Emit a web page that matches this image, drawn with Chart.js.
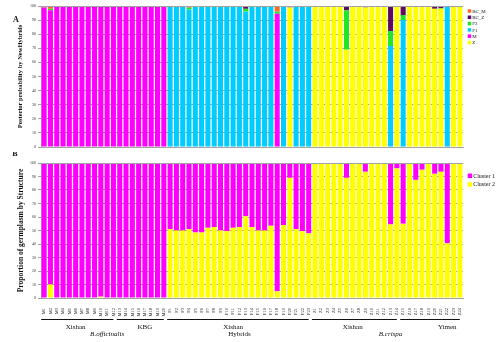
<!DOCTYPE html>
<html>
<head>
<meta charset="utf-8">
<script src="https://cdn.jsdelivr.net/npm/chart.js@4.4.0/dist/chart.umd.min.js"></script>
<style>
  html, body { margin: 0; padding: 0; background: #fff; }
  #wrapA { position: absolute; left: 0; top: 0; width: 500px; height: 152px; }
  #wrapB { position: absolute; left: 0; top: 152px; width: 500px; height: 190px; }
</style>
</head>
<body>
<div id="wrapA"><canvas id="chartA"></canvas></div>
<div id="wrapB"><canvas id="chartB"></canvas></div>
<script>
const samples = [
  'M1','M2','M3','M4','M5','M6','M7','M8','M9','M10','M11','M12','M13','M14','M15','M16','M17','M18','M19','M20',
  'P1','P2','P3','P4','P5','P6','P7','P8','P9','P10','P11','P12','P13','P14','P15','P16','P17','P18','P19','P20','P21','P22','P23',
  'Z1','Z2','Z3','Z4','Z5','Z6','Z7','Z8','Z9','Z10','Z11','Z12','Z13','Z14','Z15','Z16','Z17','Z18','Z19','Z20','Z21','Z22','Z23','Z24'
];
const yTicks = [0, 10, 20, 30, 40, 50, 60, 70, 80, 90, 100];

// NewHybrids posterior probabilities (%), one value per sample
const nhZ = [
  0,0,0,0,0,0,0,0,0,0,0,0,0,0,0,0,0,0,0,0,
  0,0,0,0,0,0,0,0,0,0,0,0,0,0,0,0,0,0,0,99,0,0,0,
  100,100,100,100,100,69,100,100,99,100,99.4,100,0,100,0,100,100,100,100,98,98,0,100,100
];
const nhM = [
  99,97,100,100,100,100,99.5,100,100,99.5,100,100,100,100,100,100,100,100,100,100,
  0,0,0,0,0,0,0,0,0,0,0,0,0,0,0,0,0,94.5,0,0,0,0,0,
  0,0,0,0,0,0,0,0,0,0,0,0,0,0,0,0,0,0,0,0,0,0,0,0
];
const nhF1 = [
  0,0,0,0,0,0,0,0,0,0,0,0,0,0,0,0,0,0,0,0,
  100,100,100,97.5,100,100,100,100,100,100,100,100,96,100,100,100,100,0,100,0,100,100,100,
  0,0,0,0,0,0,0,0,0,0,0,0,71.6,0,90,0,0,0,0,0,0,100,0,0
];
const nhF2 = [
  0,1,0,0,0,0,0,0,0,0.5,0,0,0,0,0,0,0,0,0,0,
  0,0,0,1.3,0,0,0,0,0,0,0,0,2,0,0,0,0,1.5,0,0,0,0,0,
  0,0,0,0,0,28,0,0,0,0,0.6,0,10.6,0,3.6,0,0,0,0,0,0.5,0,0,0
];
const nhBCZ = [
  0,0,0,0,0,0,0,0,0,0,0,0,0,0,0,0,0,0,0,0,
  0,0,0,0,0,0,0,0,0,0,0,0,2,0,0,0,0,0,0,1,0,0,0,
  0,0,0,0,0,3,0,0,1,0,0,0,17.8,0,6.4,0,0,0,0,2,1.5,0,0,0
];
const nhBCM = [
  1,2,0,0,0,0,0.5,0,0,0,0,0,0,0,0,0,0,0,0,0,
  0,0,0,1.2,0,0,0,0,0,0,0,0,0,0,0,0,0,4,0,0,0,0,0,
  0,0,0,0,0,0,0,0,0,0,0,0,0,0,0,0,0,0,0,0,0,0,0,0
];

// Structure proportions (%), two clusters
const cluster1 = [
  100,90,100,100,100,100,100,100,100,99,100,100,100,100,100,100,100,100,100,100,
  49,50,50,49,51.5,51.5,48,47.5,50,50.5,48,47.5,39.5,47.5,50,50,46.5,95,46,11,49,50.5,52,
  0,0,0,0,0,11,0,0,6.5,0,0,0,45.5,4,45,0,12.5,5,0,8,6.5,59.5,0,0
];
const cluster2 = [
  0,10,0,0,0,0,0,0,0,1,0,0,0,0,0,0,0,0,0,0,
  51,50,50,51,48.5,48.5,52,52.5,50,49.5,52,52.5,60.5,52.5,50,50,53.5,5,54,89,51,49.5,48,
  100,100,100,100,100,89,100,100,93.5,100,100,100,54.5,96,55,100,87.5,95,100,92,93.5,40.5,100,100
];

// sample groups under the x axis
const groupRuns = [
  { first: 'M1', last: 'M12', name: 'Xishan', at: 'M6' },
  { first: 'M13', last: 'M20', name: 'KBG', at: 'M17' },
  { first: 'P1', last: 'P23', name: 'Xishan', at: 'P11' },
  { first: 'Z1', last: 'Z14', name: 'Xishan', at: 'Z7' },
  { first: 'Z15', last: 'Z24', name: 'Yimen', at: 'Z22' }
];
const speciesNames = [
  { name: 'B.officinalis', at: 'M11', italic: true },
  { name: 'Hybrids', at: 'P12', italic: false },
  { name: 'B.crispa', at: 'Z13', italic: true }
];

const SERIF = '"Liberation Serif", "Times New Roman", serif';
const GRID = '#a3a3a3';

function makeScales(xHeight, showX) {
  return {
    x: {
      stacked: true,
      grid: { display: false },
      border: { color: GRID },
      ticks: {
        display: showX, autoSkip: false, minRotation: 90, maxRotation: 90,
        padding: 2, color: '#222', font: { family: SERIF, size: 4.5 }
      },
      afterFit: (s) => { s.height = xHeight; }
    },
    y: {
      stacked: true, min: 0, max: 100,
      afterBuildTicks: (s) => { s.ticks = yTicks.map(v => ({ value: v })); },
      grid: { color: GRID, lineWidth: 1, tickLength: 3 },
      border: { color: GRID },
      ticks: { padding: 2, color: '#333', font: { family: SERIF, size: 4 } },
      afterFit: (s) => { s.width = 41; }
    }
  };
}

// panel letter, rotated y title, legend and top line
function decor(opts) {
  return {
    id: 'decor',
    afterDatasetsDraw(chart) {
      const { ctx, chartArea } = chart;
      ctx.save();
      ctx.strokeStyle = GRID;
      ctx.lineWidth = 1;
      ctx.beginPath();
      ctx.moveTo(chartArea.left, Math.round(chartArea.top) + 0.5);
      ctx.lineTo(chartArea.right, Math.round(chartArea.top) + 0.5);
      ctx.stroke();
      ctx.restore();
    },
    afterDraw(chart) {
      const { ctx, chartArea } = chart;
      ctx.save();
      ctx.fillStyle = '#111';
      ctx.font = 'bold 8px ' + SERIF;
      ctx.textAlign = 'center';
      ctx.textBaseline = 'middle';
      ctx.fillText(opts.letter, opts.letterX, opts.letterY);

      ctx.save();
      ctx.translate(20.7, (chartArea.top + chartArea.bottom) / 2);
      ctx.rotate(-Math.PI / 2);
      ctx.font = 'bold ' + opts.titleSize + 'px ' + SERIF;
      ctx.fillText(opts.title, 0, 0);
      ctx.restore();

      const items = chart.data.datasets.slice().reverse();
      ctx.textAlign = 'left';
      ctx.font = opts.legendSize + 'px ' + SERIF;
      items.forEach((ds, k) => {
        const y = opts.legendTop + k * opts.legendStep;
        ctx.fillStyle = ds.backgroundColor;
        ctx.fillRect(chartArea.right + 4.7, y - opts.box / 2, opts.box, opts.box);
        ctx.fillStyle = '#111';
        ctx.fillText(ds.label, chartArea.right + 5.7 + opts.box, y + 0.3);
      });
      ctx.restore();
    }
  };
}

const groupAxis = {
  id: 'groupAxis',
  afterDraw(chart) {
    const { ctx } = chart;
    const x = chart.scales.x;
    const px = (name) => x.getPixelForValue(samples.indexOf(name));
    ctx.save();
    ctx.strokeStyle = '#111';
    ctx.fillStyle = '#111';
    ctx.lineWidth = 1;
    ctx.textAlign = 'center';
    ctx.textBaseline = 'middle';
    ctx.font = '7px ' + SERIF;
    groupRuns.forEach(g => {
      ctx.beginPath();
      ctx.moveTo(px(g.first) - 3, 167.5);
      ctx.lineTo(px(g.last), 167.5);
      ctx.stroke();
      ctx.fillText(g.name, px(g.at), 174.7);
    });
    speciesNames.forEach(s => {
      ctx.font = (s.italic ? 'italic ' : '') + '7px ' + SERIF;
      ctx.fillText(s.name, px(s.at), 182.2);
    });
    ctx.restore();
  }
};

const barStyle = { barPercentage: 0.8, categoryPercentage: 1.0, borderWidth: 0 };

new Chart(document.getElementById('chartA'), {
  type: 'bar',
  data: {
    labels: samples,
    datasets: [
      { label: 'Z', data: nhZ, backgroundColor: '#ffff00', ...barStyle },
      { label: 'M', data: nhM, backgroundColor: '#ff00ff', ...barStyle },
      { label: 'F1', data: nhF1, backgroundColor: '#00ccff', ...barStyle },
      { label: 'F2', data: nhF2, backgroundColor: '#22e622', ...barStyle },
      { label: 'BC_Z', data: nhBCZ, backgroundColor: '#5e0a5e', ...barStyle },
      { label: 'BC_M', data: nhBCM, backgroundColor: '#ff6a2a', ...barStyle }
    ]
  },
  options: {
    responsive: true, maintainAspectRatio: false, animation: false,
    layout: { padding: { top: 6, right: 37, bottom: 0, left: 0 } },
    plugins: { legend: { display: false }, tooltip: { enabled: false } },
    scales: makeScales(5, false)
  },
  plugins: [decor({
    letter: 'A', letterX: 16, letterY: 20, title: 'Posterior probability by NewHybrids', titleSize: 6.5,
    legendTop: 11, legendStep: 6.3, legendSize: 5, box: 3.5
  })]
});

new Chart(document.getElementById('chartB'), {
  type: 'bar',
  data: {
    labels: samples,
    datasets: [
      { label: 'Cluster 2', data: cluster2, backgroundColor: '#ffff00', ...barStyle },
      { label: 'Cluster 1', data: cluster1, backgroundColor: '#ff00ff', ...barStyle }
    ]
  },
  options: {
    responsive: true, maintainAspectRatio: false, animation: false,
    layout: { padding: { top: 11, right: 37, bottom: 0, left: 0 } },
    plugins: { legend: { display: false }, tooltip: { enabled: false } },
    scales: makeScales(44, true)
  },
  plugins: [decor({
    letter: 'B', letterX: 15, letterY: 1.5, title: 'Proportion of germplasm by Structure', titleSize: 7.5,
    legendTop: 23.8, legendStep: 8.7, legendSize: 6, box: 4.5
  }), groupAxis]
});
</script>
</body>
</html>
